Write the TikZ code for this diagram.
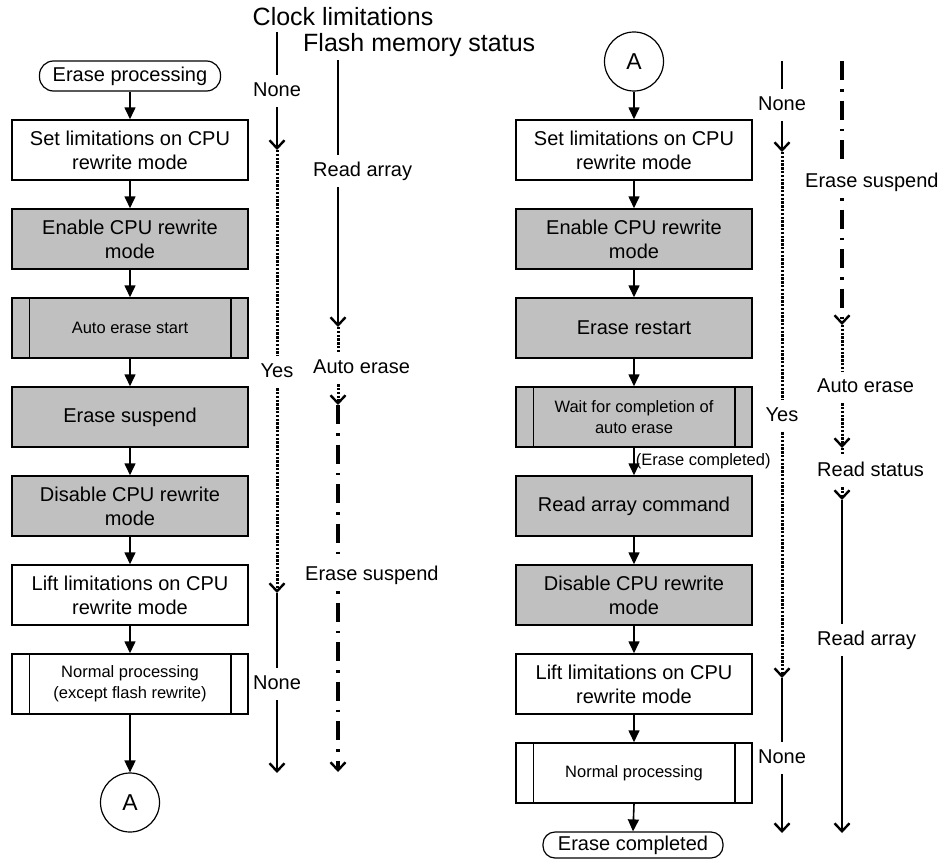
\documentclass[tikz,border=0pt]{standalone}
\usepackage{fontspec}
\setmainfont{Liberation Sans}
\usetikzlibrary{arrows.meta}
\definecolor{boxgray}{RGB}{192,192,192}
\begin{document}
\begin{tikzpicture}[x=1pt,y=-1pt,
  base/.style={draw, line width=1.5pt, minimum width=236pt, minimum height=60pt,
    align=center, inner sep=2pt, font=\fontsize{20}{24}\selectfont},
  plainbox/.style={base},
  graybox/.style={base, fill=boxgray},
  smalltext/.style={font=\fontsize{16.5}{21}\selectfont},
  term/.style={draw, line width=1.2pt, rounded corners=14pt, minimum height=30pt,
    minimum width=181pt, inner sep=0pt, font=\fontsize{20}{24}\selectfont},
  conn/.style={draw, circle, line width=1.2pt, minimum size=59pt, inner sep=0pt,
    font=\fontsize{23}{27}\selectfont},
  flow/.style={line width=1.6pt, -{Triangle[length=12pt,width=11pt]}},
  tl/.style={font=\fontsize{20}{24}\selectfont, text height=14pt, text depth=4pt,
    inner xsep=0pt, inner ysep=7pt},
  title/.style={font=\fontsize{25}{30}\selectfont, inner sep=0pt},
  solidline/.style={line width=2.4pt},
  dotline/.style={line width=3pt, dash pattern=on 2.4pt off 1.4pt},
  dashdotline/.style={line width=3.2pt, dash pattern=on 19pt off 9pt on 2.5pt off 9pt},
  dotdashline/.style={line width=3.2pt, dash pattern=on 2.5pt off 9pt on 19pt off 9pt},
  tip/.style={-{Straight Barb[length=8pt,width=15pt,line width=2.4pt]}},
]
\useasboundingbox (0,0) rectangle (944,859);

% ---------- titles ----------
\node[title] (tclock) at (343,17) {Clock limitations};
\node[title, anchor=west] (tflash) at (303,45) {Flash memory status};

% ---------- left flow ----------
\node[term] (start) at (130,76) {Erase processing};
\node[plainbox] (L1) at (130,150) {Set limitations on CPU\\rewrite mode};
\node[graybox] (L2) at (130,239) {Enable CPU rewrite\\mode};
\node[graybox, smalltext] (L3) at (130,328) {Auto erase start};
\node[graybox] (L4) at (130,417) {Erase suspend};
\node[graybox] (L5) at (130,506) {Disable CPU rewrite\\mode};
\node[plainbox] (L6) at (130,595) {Lift limitations on CPU\\rewrite mode};
\node[plainbox, smalltext] (L7) at (130,684) {Normal processing\\(except flash rewrite)};
\node[conn] (LA) at (130,802.5) {A};

\draw[flow] (start.south) -- (L1.north);
\draw[flow] (L1.south) -- (L2.north);
\draw[flow] (L2.south) -- (L3.north);
\draw[flow] (L3.south) -- (L4.north);
\draw[flow] (L4.south) -- (L5.north);
\draw[flow] (L5.south) -- (L6.north);
\draw[flow] (L6.south) -- (L7.north);
\draw[flow] (L7.south) -- (LA.north);

% ---------- right flow ----------
\node[conn] (RA) at (634,61.5) {A};
\node[plainbox] (R1) at (634,150) {Set limitations on CPU\\rewrite mode};
\node[graybox] (R2) at (634,239) {Enable CPU rewrite\\mode};
\node[graybox] (R3) at (634,328) {Erase restart};
\node[graybox, smalltext] (R4) at (634,417) {Wait for completion of\\auto erase};
\node[graybox] (R5) at (634,506) {Read array command};
\node[graybox] (R6) at (634,595) {Disable CPU rewrite\\mode};
\node[plainbox] (R7) at (634,684) {Lift limitations on CPU\\rewrite mode};
\node[plainbox, smalltext] (R8) at (634,773) {Normal processing};
\node[term, minimum height=26pt, minimum width=180pt, rounded corners=12pt] (finish) at (633,845) {Erase completed};

\draw[flow] (RA.south) -- (R1.north);
\draw[flow] (R1.south) -- (R2.north);
\draw[flow] (R2.south) -- (R3.north);
\draw[flow] (R3.south) -- (R4.north);
\draw[flow] (R4.south) -- (R5.north)
  node[midway, right=1pt, smalltext, inner sep=0pt] (donelbl) {(Erase completed)};
\draw[flow] (R5.south) -- (R6.north);
\draw[flow] (R6.south) -- (R7.north);
\draw[flow] (R7.south) -- (R8.north);
\draw[flow] (R8.south) -- (finish.north);

% side bars of the predefined-process boxes
\foreach \n in {L3,L7,R4,R8}
  \draw[line width=1.5pt]
    ([xshift=18pt]\n.north west) -- ([xshift=18pt]\n.south west)
    ([xshift=-18pt]\n.north east) -- ([xshift=-18pt]\n.south east);

% ---------- left clock limitations ----------
\coordinate (lc0) at (277,32);
\node[tl] (lcN1) at (277,91) {None};
\coordinate (lc1) at (277,150);
\node[tl] (lcY) at (277,372) {Yes};
\coordinate (lc2) at (277,593);
\node[tl] (lcN2) at (277,684) {None};
\coordinate (lc3) at (277,773);

\draw[solidline] (lc0) -- (lcN1.north);
\draw[solidline, tip] (lcN1.south) -- (lc1);
\draw[dotline] (lc1) -- (lcY.north);
\draw[dotline, tip] (lcY.south) -- (lc2);
\draw[solidline] (lc2) -- (lcN2.north);
\draw[solidline, tip] (lcN2.south) -- (lc3);

% ---------- left flash memory status ----------
\coordinate (lf0) at (338,60);
\node[tl, anchor=west] (lfRA) at (313,171) {Read array};
\coordinate (lf1) at (338,327);
\node[tl, anchor=west] (lfAE) at (313,368) {Auto erase};
\coordinate (lf2) at (338,405);
\node[tl, anchor=west] (lfES) at (305,575) {Erase suspend};
\coordinate (lf3) at (338,772);

\draw[solidline] (lf0) -- (lf0 |- lfRA.north);
\draw[solidline, tip] (lf0 |- lfRA.south) -- (lf1);
\draw[dotline] (lf1) -- (lf0 |- lfAE.north);
\draw[dotline, tip] (lf0 |- lfAE.south) -- (lf2);
\draw[dashdotline] (lf2) -- (lf0 |- lfES.north);
\draw[dotdashline, tip] (lf0 |- lfES.south) -- (lf3);

% ---------- right clock limitations ----------
\coordinate (rc0) at (782,61);
\node[tl] (rcN1) at (782,105) {None};
\coordinate (rc1) at (782,152);
\node[tl] (rcY) at (782,416) {Yes};
\coordinate (rc2) at (782,678);
\node[tl] (rcN2) at (782,758) {None};
\coordinate (rc3) at (782,833);

\draw[solidline] (rc0) -- (rcN1.north);
\draw[solidline, tip] (rcN1.south) -- (rc1);
\draw[dotline] (rc1) -- (rcY.north);
\draw[dotline, tip] (rcY.south) -- (rc2);
\draw[solidline] (rc2) -- (rcN2.north);
\draw[solidline, tip] (rcN2.south) -- (rc3);

% ---------- right flash memory status ----------
\coordinate (rf0) at (842,61);
\node[tl, anchor=west] (rfES) at (805,182) {Erase suspend};
\coordinate (rf1) at (842,325);
\node[tl, anchor=west] (rfAE) at (817,387) {Auto erase};
\coordinate (rf2) at (842,448);
\node[tl, anchor=west] (rfRS) at (817,471) {Read status};
\coordinate (rf3) at (842,500);
\node[tl, anchor=west] (rfRA) at (817,640) {Read array};
\coordinate (rf4) at (842,833);

\draw[dashdotline] (rf0) -- (rf0 |- rfES.north);
\draw[dotdashline, tip] (rf0 |- rfES.south) -- (rf1);
\draw[dotline] (rf1) -- (rf0 |- rfAE.north);
\draw[dotline, tip] (rf0 |- rfAE.south) -- (rf2);
\draw[dotline] (rf2) -- (rf0 |- rfRS.north);
\draw[dotline, tip] (rf0 |- rfRS.south) -- (rf3);
\draw[solidline] (rf3) -- (rf0 |- rfRA.north);
\draw[solidline, tip] (rf0 |- rfRA.south) -- (rf4);
\end{tikzpicture}
\end{document}
